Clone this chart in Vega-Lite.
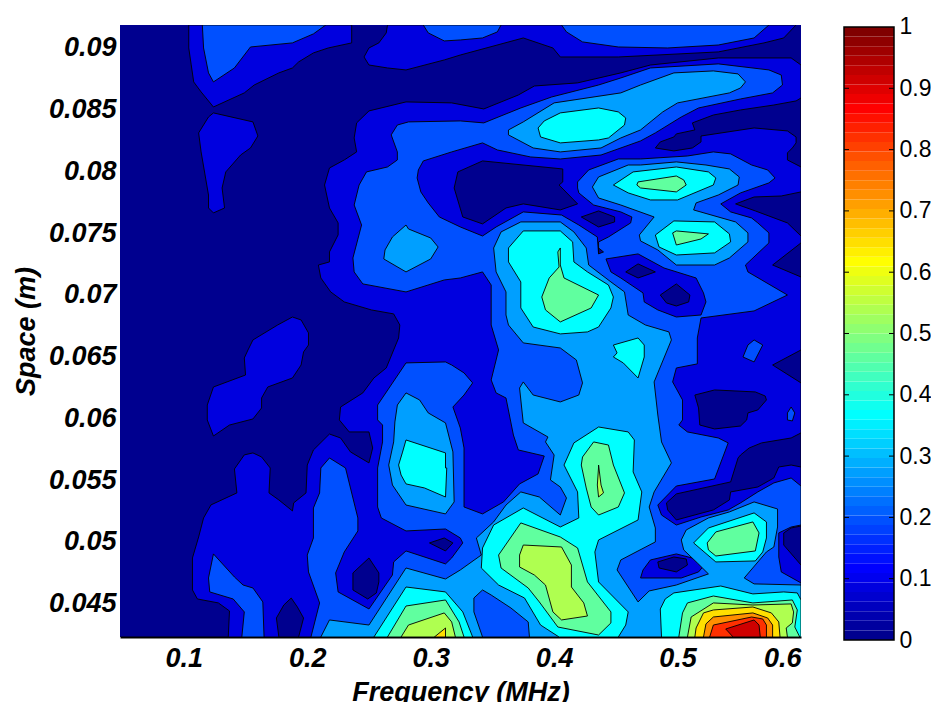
{"$schema":"https://vega.github.io/schema/vega-lite/v6.json","background":"white","padding":{"left":12,"top":15,"right":0,"bottom":0},"spacing":42,"config":{"view":{"stroke":null}},
"hconcat":[{"width":681,"height":612,"view":{"fill":"#00008f","stroke":null},
"data":{"values":[
{"r":1,"l":1,"x":[0.104,0.104,0.106,0.108,0.114,0.124,0.149,0.157,0.177,0.188,0.193,0.205,0.217,0.236,0.236],"y":[0.09186,0.09,0.08863,0.08725,0.08644,0.08522,0.08636,0.087,0.08798,0.08838,0.08887,0.0896,0.09,0.09041,0.09186]},
{"r":2,"l":1,"x":[0.265,0.264,0.258,0.25,0.246,0.25,0.265,0.28,0.311,0.324,0.375,0.399,0.405,0.452,0.533,0.57,0.586,0.596],"y":[0.09186,0.09122,0.09041,0.09,0.08927,0.08862,0.08838,0.08822,0.08903,0.08943,0.09081,0.09,0.08927,0.08927,0.08968,0.09041,0.09081,0.09186]},
{"r":3,"l":1,"x":[0.28,0.25,0.24,0.238,0.24,0.23,0.218,0.214,0.218,0.225,0.225,0.218,0.218,0.209,0.211,0.219,0.23,0.252,0.27,0.275,0.274,0.264,0.254,0.245,0.227,0.226,0.234,0.25,0.253,0.25,0.235,0.227,0.218,0.205,0.2,0.199,0.189,0.188,0.177,0.169,0.17,0.163,0.156,0.149,0.141,0.143,0.122,0.116,0.112,0.107,0.107,0.111,0.128,0.137,0.136,0.6,0.6,0.592,0.533,0.478,0.454,0.419,0.384,0.371,0.343,0.317],"y":[0.08563,0.0849,0.08393,0.08271,0.08158,0.08093,0.08028,0.0789,0.07704,0.07583,0.07486,0.07348,0.07267,0.07242,0.07137,0.07024,0.06943,0.06878,0.06846,0.06756,0.06651,0.06408,0.06327,0.06206,0.06092,0.05987,0.0589,0.0589,0.0576,0.05639,0.05728,0.05841,0.05873,0.05744,0.05622,0.05396,0.05315,0.0525,0.05339,0.05396,0.05598,0.05687,0.0572,0.05704,0.0559,0.05396,0.05299,0.05193,0.05039,0.04869,0.0461,0.04537,0.04505,0.0444,0.04229,0.04229,0.08862,0.08919,0.08919,0.08862,0.08798,0.08717,0.08692,0.08619,0.08506,0.08555]},
{"r":4,"l":1,"x":[0.124,0.12,0.112,0.114,0.12,0.12,0.124,0.133,0.131,0.134,0.146,0.154,0.16,0.156],"y":[0.08474,0.08441,0.08312,0.08158,0.07809,0.07704,0.07664,0.07704,0.07866,0.07996,0.08133,0.0819,0.08287,0.08401]},
{"r":5,"l":1,"x":[0.176,0.188,0.195,0.201,0.201,0.197,0.195,0.188,0.168,0.163,0.163,0.156,0.137,0.124,0.119,0.119,0.124,0.15,0.149,0.152,0.156],"y":[0.06756,0.06821,0.06797,0.06692,0.06594,0.06538,0.06432,0.06327,0.06254,0.06165,0.06084,0.05995,0.05946,0.05857,0.05987,0.06108,0.06254,0.06351,0.06489,0.06554,0.06635]},
{"r":6,"l":0,"x":[0.6,0.596,0.578,0.551,0.529,0.512,0.514,0.499,0.497,0.486,0.482,0.497,0.512,0.519,0.519,0.562,0.589,0.596,0.596,0.593,0.589,0.589,0.6],"y":[0.08595,0.08571,0.08538,0.08498,0.08457,0.08393,0.08336,0.08304,0.08279,0.08239,0.0819,0.08166,0.0819,0.08239,0.08287,0.08352,0.08328,0.08279,0.08231,0.0819,0.0815,0.08093,0.08036]},
{"r":7,"l":0,"x":[0.342,0.407,0.407,0.404,0.419,0.405,0.375,0.361,0.342,0.326,0.319,0.322],"y":[0.08085,0.0802,0.07915,0.0789,0.07737,0.07688,0.07737,0.07704,0.07575,0.07631,0.07866,0.07996]},
{"r":8,"l":0,"x":[0.422,0.436,0.449,0.449,0.436],"y":[0.07631,0.0768,0.07631,0.07591,0.0755]},
{"r":9,"l":0,"x":[0.547,0.562,0.584,0.6,0.6,0.589,0.563],"y":[0.07737,0.07793,0.07801,0.07834,0.07477,0.07583,0.0768]},
{"r":10,"l":0,"x":[0.577,0.6,0.6],"y":[0.07242,0.07421,0.07145]},
{"r":11,"l":0,"x":[0.514,0.53,0.563,0.571,0.572,0.565,0.557,0.556,0.551,0.53,0.518,0.517],"y":[0.06189,0.0623,0.06214,0.06181,0.06149,0.06068,0.06044,0.05987,0.05938,0.05914,0.05946,0.06084]},
{"r":12,"l":0,"x":[0.577,0.6,0.6],"y":[0.06432,0.06554,0.06287]},
{"r":13,"l":0,"x":[0.499,0.543,0.549,0.551,0.558,0.568,0.592,0.6,0.6,0.592,0.582,0.578,0.565,0.543,0.542,0.529,0.499,0.492,0.491],"y":[0.05388,0.05485,0.05679,0.05703,0.0576,0.05801,0.05841,0.05882,0.05606,0.05622,0.05606,0.05517,0.05444,0.05404,0.05339,0.05258,0.05177,0.05258,0.05315]},
{"r":14,"l":0,"x":[0.586,0.592,0.6,0.6,0.586],"y":[0.05072,0.05112,0.05128,0.04812,0.04974]},
{"r":15,"l":0,"x":[0.187,0.181,0.175,0.177,0.193,0.197,0.192],"y":[0.04545,0.04488,0.04383,0.04229,0.04229,0.04383,0.04472]},
{"r":16,"l":0,"x":[0.237,0.25,0.258,0.258,0.256,0.249,0.237],"y":[0.04748,0.04869,0.04748,0.04675,0.04586,0.04537,0.0461]},
{"r":17,"l":0,"x":[0.299,0.311,0.318,0.312],"y":[0.04991,0.05031,0.04991,0.04926]},
{"r":18,"l":2,"x":[0.294,0.298,0.311,0.324,0.342,0.354,0.357],"y":[0.09186,0.09122,0.09057,0.09065,0.09081,0.0913,0.09186]},
{"r":19,"l":2,"x":[0.115,0.116,0.12,0.124,0.141,0.154,0.188,0.205,0.215],"y":[0.09186,0.09,0.08798,0.08725,0.08838,0.09008,0.09041,0.09114,0.09186]},
{"r":20,"l":2,"x":[0.406,0.41,0.423,0.452,0.492,0.533,0.562,0.574],"y":[0.09186,0.0913,0.09049,0.09008,0.09,0.09024,0.09081,0.09186]},
{"r":21,"l":2,"x":[0.282,0.273,0.268,0.273,0.273,0.265,0.248,0.242,0.238,0.244,0.237,0.238,0.245,0.28,0.311,0.324,0.342,0.349,0.349,0.355,0.349,0.353,0.361,0.367,0.371,0.392,0.387,0.372,0.359,0.342,0.327,0.327,0.324,0.318,0.327,0.334,0.327,0.317,0.312,0.28,0.257,0.257,0.261,0.261,0.257,0.257,0.26,0.28,0.312,0.324,0.326,0.317,0.312,0.28,0.27,0.269,0.25,0.225,0.223,0.23,0.241,0.241,0.231,0.218,0.211,0.21,0.205,0.205,0.2,0.201,0.21,0.203,0.6,0.6,0.584,0.582,0.582,0.592,0.6,0.6,0.592,0.578,0.565,0.551,0.541,0.519,0.499,0.487,0.484,0.499,0.53,0.541,0.533,0.508,0.501,0.504,0.504,0.496,0.499,0.516,0.516,0.519,0.562,0.589,0.557,0.555,0.574,0.574,0.565,0.56,0.543,0.535,0.551,0.574,0.579,0.573,0.56,0.543,0.529,0.508,0.47,0.452,0.428,0.419,0.419,0.42,0.432,0.454,0.463,0.462,0.444,0.436,0.436,0.435,0.42,0.406,0.375,0.353,0.342,0.324,0.307,0.298,0.292,0.289,0.29,0.294,0.317,0.342,0.354,0.381,0.405,0.438,0.47,0.482,0.503,0.517,0.551,0.577,0.585,0.584,0.574,0.533,0.478,0.454,0.436,0.398,0.373,0.343,0.324],"y":[0.08401,0.08376,0.08296,0.08158,0.08093,0.08036,0.07996,0.0789,0.07728,0.07566,0.07299,0.07186,0.07089,0.07024,0.07121,0.07137,0.07186,0.0708,0.06756,0.06554,0.06311,0.06206,0.06165,0.05865,0.05744,0.05695,0.0555,0.05469,0.05323,0.05226,0.05282,0.0576,0.05922,0.06092,0.06189,0.06287,0.06368,0.06432,0.06457,0.06449,0.06108,0.05987,0.05946,0.05809,0.05598,0.05282,0.05193,0.05088,0.05104,0.05031,0.04991,0.04869,0.04821,0.04926,0.04837,0.04731,0.04456,0.04594,0.04748,0.04918,0.05088,0.05193,0.05598,0.05679,0.05598,0.05396,0.05274,0.05031,0.04893,0.04756,0.04505,0.04229,0.04229,0.04667,0.04756,0.04877,0.05072,0.0512,0.05136,0.05452,0.05517,0.05477,0.05404,0.05315,0.05258,0.05201,0.05136,0.05217,0.05298,0.05452,0.05509,0.05801,0.05841,0.0589,0.05946,0.05987,0.06149,0.06295,0.06408,0.06441,0.06651,0.06813,0.0687,0.06999,0.07186,0.07242,0.07421,0.07502,0.07583,0.07623,0.07672,0.07737,0.07826,0.07907,0.07947,0.08012,0.08052,0.08142,0.08158,0.08125,0.08101,0.08101,0.08012,0.07915,0.07866,0.07826,0.07728,0.07672,0.07631,0.07583,0.07469,0.07429,0.07332,0.07469,0.07566,0.07647,0.07672,0.0755,0.07477,0.0755,0.07631,0.07745,0.07834,0.07947,0.08012,0.08085,0.08158,0.08231,0.08174,0.08117,0.08101,0.08133,0.08247,0.08312,0.08441,0.08514,0.08587,0.08636,0.087,0.08781,0.08822,0.08871,0.08838,0.08757,0.087,0.08603,0.08514,0.08393,0.08409]},
{"r":22,"l":2,"x":[0.124,0.12,0.121,0.14,0.149,0.147,0.165,0.164,0.156,0.148,0.141],"y":[0.04902,0.04707,0.04594,0.04537,0.04432,0.04229,0.04229,0.04513,0.04626,0.0465,0.04715]},
{"r":23,"l":2,"x":[0.562,0.569,0.562,0.553,0.557],"y":[0.06635,0.06594,0.06457,0.06497,0.06594]},
{"r":24,"l":2,"x":[0.592,0.595,0.593,0.589,0.589],"y":[0.06092,0.06044,0.05979,0.05987,0.06044]},
{"r":25,"l":1,"x":[0.442,0.468,0.489,0.515,0.521,0.523,0.519,0.499,0.484,0.473,0.472,0.454,0.446],"y":[0.07291,0.07332,0.07218,0.07137,0.07016,0.06943,0.06837,0.06821,0.06878,0.06943,0.07016,0.07137,0.07186]},
{"r":26,"l":1,"x":[0.47,0.503,0.517,0.521,0.515,0.499,0.478,0.472],"y":[0.04707,0.04707,0.04756,0.04804,0.04861,0.04902,0.04853,0.04772]},
{"r":27,"l":0,"x":[0.436,0.44,0.436],"y":[0.0738,0.07348,0.07332]},
{"r":28,"l":0,"x":[0.458,0.468,0.482,0.468],"y":[0.07186,0.07251,0.07186,0.07137]},
{"r":29,"l":0,"x":[0.486,0.499,0.51,0.509,0.499,0.491],"y":[0.06999,0.07089,0.06999,0.06943,0.0691,0.06935]},
{"r":30,"l":0,"x":[0.484,0.497,0.507,0.508,0.499,0.485],"y":[0.04837,0.04877,0.04861,0.04812,0.04756,0.04788]},
{"r":31,"l":3,"x":[0.363,0.375,0.4,0.454,0.47,0.497,0.529,0.549,0.555,0.551,0.542,0.5,0.488,0.47,0.454,0.438,0.405,0.383,0.363],"y":[0.08336,0.08401,0.08555,0.08636,0.087,0.08798,0.08814,0.0879,0.08725,0.08676,0.08636,0.08555,0.08482,0.08336,0.08271,0.0819,0.08158,0.0819,0.08296]},
{"r":32,"l":3,"x":[0.28,0.282,0.3,0.306,0.3,0.28,0.262,0.263,0.269],"y":[0.07566,0.07534,0.07461,0.07388,0.07291,0.07186,0.07291,0.07364,0.07469]},
{"r":33,"l":3,"x":[0.431,0.436,0.46,0.47,0.499,0.523,0.542,0.55,0.549,0.533,0.515,0.513,0.547,0.557,0.557,0.542,0.53,0.499,0.484,0.47,0.469,0.481,0.454,0.436],"y":[0.07874,0.07955,0.08052,0.08052,0.08077,0.08052,0.0802,0.07955,0.0789,0.07809,0.07745,0.07688,0.07591,0.07502,0.07429,0.07299,0.07242,0.07242,0.07364,0.07437,0.07485,0.07631,0.07728,0.07785]},
{"r":34,"l":3,"x":[0.211,0.218,0.25,0.28,0.312,0.324,0.341,0.337,0.351,0.361,0.373,0.388,0.405,0.41,0.405,0.397,0.4,0.393,0.395,0.375,0.372,0.375,0.383,0.405,0.42,0.423,0.418,0.405,0.375,0.363,0.361,0.361,0.353,0.351,0.357,0.373,0.405,0.416,0.426,0.428,0.446,0.457,0.46,0.474,0.493,0.495,0.481,0.484,0.487,0.495,0.481,0.477,0.482,0.482,0.454,0.451,0.468,0.477,0.499,0.525,0.516,0.505,0.503,0.507,0.525,0.542,0.562,0.581,0.581,0.578,0.572,0.554,0.562,0.6,0.6],"y":[0.04229,0.04367,0.04326,0.04788,0.04699,0.04772,0.04893,0.05031,0.05161,0.05298,0.05404,0.05363,0.05217,0.05355,0.05444,0.05501,0.05703,0.05809,0.05849,0.05963,0.06246,0.06295,0.06189,0.06133,0.06189,0.06287,0.06473,0.0657,0.06611,0.06756,0.06837,0.07024,0.07186,0.0738,0.0751,0.07591,0.07591,0.0751,0.0738,0.07242,0.07105,0.07024,0.06837,0.06756,0.067,0.06635,0.06295,0.06027,0.05809,0.05639,0.05404,0.05282,0.05112,0.04999,0.04853,0.04772,0.04513,0.04602,0.0465,0.0474,0.04829,0.04934,0.05015,0.05096,0.05193,0.05242,0.05323,0.05266,0.0512,0.04958,0.04918,0.04707,0.04659,0.0465,0.04229]},
{"r":35,"l":2,"x":[0.342,0.335,0.335,0.342,0.38,0.379,0.365,0.349],"y":[0.0461,0.04545,0.04432,0.04229,0.04229,0.04351,0.04464,0.04569]},
{"r":36,"l":3,"x":[0.28,0.273,0.271,0.27,0.266,0.269,0.28,0.312,0.319,0.318,0.312,0.298,0.291],"y":[0.06206,0.06108,0.05971,0.05809,0.05622,0.0546,0.05298,0.05226,0.05323,0.05728,0.05963,0.06044,0.06149]},
{"r":37,"l":4,"x":[0.28,0.312,0.312,0.313,0.312,0.295,0.28,0.276,0.274,0.277],"y":[0.05825,0.0572,0.05598,0.05598,0.05363,0.05436,0.05469,0.05541,0.05622,0.0572]},
{"r":38,"l":4,"x":[0.387,0.392,0.405,0.436,0.452,0.458,0.457,0.444,0.436,0.405,0.389],"y":[0.08352,0.08409,0.08474,0.08514,0.08482,0.08433,0.08376,0.08271,0.08255,0.08231,0.08279]},
{"r":39,"l":4,"x":[0.448,0.464,0.499,0.525,0.531,0.529,0.5,0.478,0.46],"y":[0.0789,0.07996,0.08036,0.07996,0.07947,0.0789,0.07769,0.07769,0.07826]},
{"r":40,"l":5,"x":[0.467,0.468,0.499,0.505,0.507,0.499,0.47],"y":[0.0789,0.07915,0.07963,0.07931,0.0789,0.07834,0.07866]},
{"r":41,"l":4,"x":[0.482,0.497,0.53,0.542,0.543,0.53,0.499,0.485],"y":[0.07485,0.07599,0.07591,0.07494,0.07429,0.0734,0.07323,0.07388]},
{"r":42,"l":5,"x":[0.496,0.499,0.525,0.519,0.499],"y":[0.07502,0.07518,0.07494,0.07453,0.07404]},
{"r":43,"l":4,"x":[0.363,0.375,0.405,0.415,0.416,0.427,0.444,0.448,0.446,0.436,0.427,0.405,0.383,0.373,0.373,0.363],"y":[0.0738,0.07518,0.07518,0.07429,0.07267,0.07186,0.0708,0.06983,0.06894,0.0674,0.067,0.06684,0.0674,0.06894,0.07105,0.07267]},
{"r":44,"l":5,"x":[0.403,0.405,0.405,0.408,0.436,0.43,0.405,0.393,0.39,0.396,0.404],"y":[0.07348,0.0738,0.07242,0.07137,0.06999,0.06894,0.06781,0.06878,0.06983,0.07137,0.07226]},
{"r":45,"l":4,"x":[0.448,0.468,0.473,0.473,0.468,0.456,0.448,0.451],"y":[0.06594,0.06651,0.06594,0.06497,0.06327,0.06449,0.06497,0.0653]},
{"r":46,"l":4,"x":[0.416,0.436,0.46,0.465,0.464,0.471,0.468,0.436,0.433,0.436,0.46,0.458,0.452,0.404,0.389,0.376,0.355,0.341,0.342,0.351,0.375,0.405,0.42,0.419,0.408],"y":[0.05801,0.0593,0.0589,0.05825,0.05566,0.05404,0.05177,0.05015,0.04918,0.04675,0.04432,0.04326,0.04229,0.04229,0.04326,0.04545,0.0465,0.04788,0.0495,0.05136,0.05274,0.0512,0.05193,0.05404,0.05622]},
{"r":47,"l":5,"x":[0.422,0.423,0.432,0.444,0.448,0.457,0.452,0.436,0.43,0.426],"y":[0.05622,0.05687,0.05809,0.05784,0.05622,0.05396,0.05282,0.05217,0.05282,0.05436]},
{"r":48,"l":6,"x":[0.436,0.436,0.438,0.44,0.436,0.435],"y":[0.05606,0.05622,0.0546,0.05396,0.05363,0.0546]},
{"r":49,"l":5,"x":[0.355,0.373,0.405,0.419,0.427,0.446,0.446,0.436,0.403,0.388,0.379,0.357],"y":[0.04893,0.05153,0.05039,0.0495,0.04675,0.04432,0.04343,0.04245,0.0431,0.04513,0.04626,0.04788]},
{"r":50,"l":6,"x":[0.375,0.406,0.414,0.414,0.424,0.427,0.406,0.399,0.393,0.384,0.372,0.372],"y":[0.04974,0.04958,0.04812,0.04634,0.04505,0.04399,0.04367,0.04432,0.0465,0.04731,0.04796,0.04893]},
{"r":51,"l":4,"x":[0.254,0.28,0.312,0.326,0.334],"y":[0.04229,0.04634,0.04594,0.04432,0.04229]},
{"r":52,"l":5,"x":[0.265,0.28,0.312,0.323,0.327],"y":[0.04229,0.0448,0.04529,0.04351,0.04229]},
{"r":53,"l":6,"x":[0.276,0.282,0.311,0.317,0.32],"y":[0.04229,0.04326,0.04424,0.04351,0.04229]},
{"r":54,"l":7,"x":[0.303,0.312,0.312],"y":[0.04229,0.04302,0.04229]},
{"r":55,"l":4,"x":[0.487,0.486,0.49,0.497,0.535,0.561,0.586,0.597,0.6,0.6],"y":[0.04229,0.04456,0.04537,0.04586,0.04642,0.04578,0.04594,0.04586,0.04529,0.04229]},
{"r":56,"l":5,"x":[0.501,0.504,0.508,0.529,0.561,0.593,0.597,0.595,0.599],"y":[0.04229,0.04424,0.04505,0.04561,0.04505,0.04529,0.04448,0.0431,0.04229]},
{"r":57,"l":6,"x":[0.508,0.511,0.529,0.561,0.592,0.594,0.593,0.588,0.589],"y":[0.04229,0.04391,0.04505,0.04488,0.04497,0.04432,0.04343,0.04302,0.04229]},
{"r":58,"l":7,"x":[0.514,0.515,0.521,0.529,0.561,0.576,0.582,0.583],"y":[0.04229,0.04302,0.04424,0.04448,0.04472,0.04424,0.04351,0.04229]},
{"r":59,"l":8,"x":[0.521,0.523,0.529,0.561,0.573,0.577,0.577],"y":[0.04229,0.04335,0.04391,0.04424,0.04383,0.04326,0.04229]},
{"r":60,"l":9,"x":[0.526,0.529,0.56,0.569,0.572,0.572],"y":[0.04229,0.04326,0.04391,0.04375,0.04326,0.04229]},
{"r":61,"l":10,"x":[0.539,0.562,0.566,0.567,0.545],"y":[0.04294,0.04367,0.04326,0.04229,0.04229]},
{"r":62,"l":4,"x":[0.513,0.525,0.562,0.572,0.572,0.569,0.563,0.531],"y":[0.04991,0.05112,0.05234,0.05161,0.05031,0.04918,0.04845,0.04837]},
{"r":63,"l":5,"x":[0.524,0.531,0.561,0.566,0.563,0.531,0.525],"y":[0.04991,0.0508,0.05161,0.05072,0.04926,0.04885,0.04934]}
]},
"transform":[{"flatten":["x","y"]},{"window":[{"op":"row_number","as":"vertex"}]}],
"mark":{"type":"line","interpolate":"linear-closed","stroke":"black","strokeWidth":0.9,"clip":true},
"encoding":{
"x":{"field":"x","type":"quantitative","scale":{"domain":[0.0483,0.6],"nice":false,"zero":false},"axis":{"values":[0.1,0.2,0.3,0.4,0.5,0.6],"format":".1f","grid":false,"ticks":false,"domain":true,"domainColor":"black","domainWidth":2,"labelFont":"Liberation Sans","labelFontSize":27,"labelFontWeight":"bold","labelFontStyle":"italic","labelColor":"black","labelPadding":8,"title":"Frequency (MHz)","titleFont":"Liberation Sans","titleFontSize":27,"titleFontWeight":"bold","titleFontStyle":"italic","titleColor":"black","titlePadding":8}},
"y":{"field":"y","type":"quantitative","scale":{"domain":[0.04229,0.09186],"nice":false,"zero":false},"axis":{"values":[0.045,0.05,0.055,0.06,0.065,0.07,0.075,0.08,0.085,0.09],"format":".3~f","grid":false,"ticks":false,"domain":false,"labelFont":"Liberation Sans","labelFontSize":27,"labelFontWeight":"bold","labelFontStyle":"italic","labelColor":"black","labelPadding":4,"title":"Space (m)","titleFont":"Liberation Sans","titleFontSize":27,"titleFontWeight":"bold","titleFontStyle":"italic","titleColor":"black","titlePadding":8}},
"detail":{"field":"r"},
"order":{"field":"vertex","type":"quantitative"},
"fill":{"field":"l","type":"ordinal","legend":null,"scale":{"domain":[0,1,2,3,4,5,6,7,8,9,10],"range":["#00008f","#0000df","#0050ff","#009fff","#00ffff","#60ff9f","#afff50","#ffdf00","#ff8f00","#ff3000","#cf0000"]}}
}},
{"width":50,"height":615,
"layer":[
{"data":{"values":[{"x":0,"x2":1,"a":0,"b":0.015625},{"x":0,"x2":1,"a":0.015625,"b":0.03125},{"x":0,"x2":1,"a":0.03125,"b":0.046875},{"x":0,"x2":1,"a":0.046875,"b":0.0625},{"x":0,"x2":1,"a":0.0625,"b":0.078125},{"x":0,"x2":1,"a":0.078125,"b":0.09375},{"x":0,"x2":1,"a":0.09375,"b":0.109375},{"x":0,"x2":1,"a":0.109375,"b":0.125},{"x":0,"x2":1,"a":0.125,"b":0.140625},{"x":0,"x2":1,"a":0.140625,"b":0.15625},{"x":0,"x2":1,"a":0.15625,"b":0.171875},{"x":0,"x2":1,"a":0.171875,"b":0.1875},{"x":0,"x2":1,"a":0.1875,"b":0.203125},{"x":0,"x2":1,"a":0.203125,"b":0.21875},{"x":0,"x2":1,"a":0.21875,"b":0.234375},{"x":0,"x2":1,"a":0.234375,"b":0.25},{"x":0,"x2":1,"a":0.25,"b":0.265625},{"x":0,"x2":1,"a":0.265625,"b":0.28125},{"x":0,"x2":1,"a":0.28125,"b":0.296875},{"x":0,"x2":1,"a":0.296875,"b":0.3125},{"x":0,"x2":1,"a":0.3125,"b":0.328125},{"x":0,"x2":1,"a":0.328125,"b":0.34375},{"x":0,"x2":1,"a":0.34375,"b":0.359375},{"x":0,"x2":1,"a":0.359375,"b":0.375},{"x":0,"x2":1,"a":0.375,"b":0.390625},{"x":0,"x2":1,"a":0.390625,"b":0.40625},{"x":0,"x2":1,"a":0.40625,"b":0.421875},{"x":0,"x2":1,"a":0.421875,"b":0.4375},{"x":0,"x2":1,"a":0.4375,"b":0.453125},{"x":0,"x2":1,"a":0.453125,"b":0.46875},{"x":0,"x2":1,"a":0.46875,"b":0.484375},{"x":0,"x2":1,"a":0.484375,"b":0.5},{"x":0,"x2":1,"a":0.5,"b":0.515625},{"x":0,"x2":1,"a":0.515625,"b":0.53125},{"x":0,"x2":1,"a":0.53125,"b":0.546875},{"x":0,"x2":1,"a":0.546875,"b":0.5625},{"x":0,"x2":1,"a":0.5625,"b":0.578125},{"x":0,"x2":1,"a":0.578125,"b":0.59375},{"x":0,"x2":1,"a":0.59375,"b":0.609375},{"x":0,"x2":1,"a":0.609375,"b":0.625},{"x":0,"x2":1,"a":0.625,"b":0.640625},{"x":0,"x2":1,"a":0.640625,"b":0.65625},{"x":0,"x2":1,"a":0.65625,"b":0.671875},{"x":0,"x2":1,"a":0.671875,"b":0.6875},{"x":0,"x2":1,"a":0.6875,"b":0.703125},{"x":0,"x2":1,"a":0.703125,"b":0.71875},{"x":0,"x2":1,"a":0.71875,"b":0.734375},{"x":0,"x2":1,"a":0.734375,"b":0.75},{"x":0,"x2":1,"a":0.75,"b":0.765625},{"x":0,"x2":1,"a":0.765625,"b":0.78125},{"x":0,"x2":1,"a":0.78125,"b":0.796875},{"x":0,"x2":1,"a":0.796875,"b":0.8125},{"x":0,"x2":1,"a":0.8125,"b":0.828125},{"x":0,"x2":1,"a":0.828125,"b":0.84375},{"x":0,"x2":1,"a":0.84375,"b":0.859375},{"x":0,"x2":1,"a":0.859375,"b":0.875},{"x":0,"x2":1,"a":0.875,"b":0.890625},{"x":0,"x2":1,"a":0.890625,"b":0.90625},{"x":0,"x2":1,"a":0.90625,"b":0.921875},{"x":0,"x2":1,"a":0.921875,"b":0.9375},{"x":0,"x2":1,"a":0.9375,"b":0.953125},{"x":0,"x2":1,"a":0.953125,"b":0.96875},{"x":0,"x2":1,"a":0.96875,"b":0.984375},{"x":0,"x2":1,"a":0.984375,"b":1}]},
"mark":{"type":"rect"},
"encoding":{
"x":{"field":"x","type":"quantitative","scale":{"domain":[0,1],"nice":false,"zero":false},"axis":null},
"x2":{"field":"x2"},
"y":{"field":"a","type":"quantitative","scale":{"domain":[0,1.00326],"nice":false,"zero":false},"axis":{"orient":"right","values":[0,0.1,0.2,0.3,0.4,0.5,0.6,0.7,0.8,0.9,1],"format":"~g","grid":false,"domain":false,"ticks":false,"labelFont":"Liberation Sans","labelFontSize":23,"labelColor":"black","labelPadding":5,"title":null}},
"y2":{"field":"b"},
"fill":{"field":"a","type":"quantitative","legend":null,"scale":{"type":"quantize","domain":[0,1],"range":["#00008f","#00009f","#0000af","#0000bf","#0000cf","#0000df","#0000ef","#0000ff","#0010ff","#0020ff","#0030ff","#0040ff","#0050ff","#0060ff","#0070ff","#0080ff","#008fff","#009fff","#00afff","#00bfff","#00cfff","#00dfff","#00efff","#00ffff","#10ffef","#20ffdf","#30ffcf","#40ffbf","#50ffaf","#60ff9f","#70ff8f","#80ff80","#8fff70","#9fff60","#afff50","#bfff40","#cfff30","#dfff20","#efff10","#ffff00","#ffef00","#ffdf00","#ffcf00","#ffbf00","#ffaf00","#ff9f00","#ff8f00","#ff8000","#ff7000","#ff6000","#ff5000","#ff4000","#ff3000","#ff2000","#ff1000","#ff0000","#ef0000","#df0000","#cf0000","#bf0000","#af0000","#9f0000","#8f0000","#800000"]}}
}},
{"data":{"values":[{"x":0,"x2":0.1,"v":0.1},{"x":0.9,"x2":1,"v":0.1},{"x":0,"x2":0.1,"v":0.2},{"x":0.9,"x2":1,"v":0.2},{"x":0,"x2":0.1,"v":0.3},{"x":0.9,"x2":1,"v":0.3},{"x":0,"x2":0.1,"v":0.4},{"x":0.9,"x2":1,"v":0.4},{"x":0,"x2":0.1,"v":0.5},{"x":0.9,"x2":1,"v":0.5},{"x":0,"x2":0.1,"v":0.6},{"x":0.9,"x2":1,"v":0.6},{"x":0,"x2":0.1,"v":0.7},{"x":0.9,"x2":1,"v":0.7},{"x":0,"x2":0.1,"v":0.8},{"x":0.9,"x2":1,"v":0.8},{"x":0,"x2":0.1,"v":0.9},{"x":0.9,"x2":1,"v":0.9}]},
"mark":{"type":"rule","color":"black","strokeWidth":1},
"encoding":{"x":{"field":"x","type":"quantitative"},"x2":{"field":"x2"},"y":{"field":"v","type":"quantitative"}}},
{"data":{"values":[{"x":0,"x2":1,"a":0,"b":1}]},
"mark":{"type":"rect","fill":null,"stroke":"black","strokeWidth":1.5},
"encoding":{"x":{"field":"x","type":"quantitative"},"x2":{"field":"x2"},"y":{"field":"a","type":"quantitative"},"y2":{"field":"b"}}}
]}
]}
